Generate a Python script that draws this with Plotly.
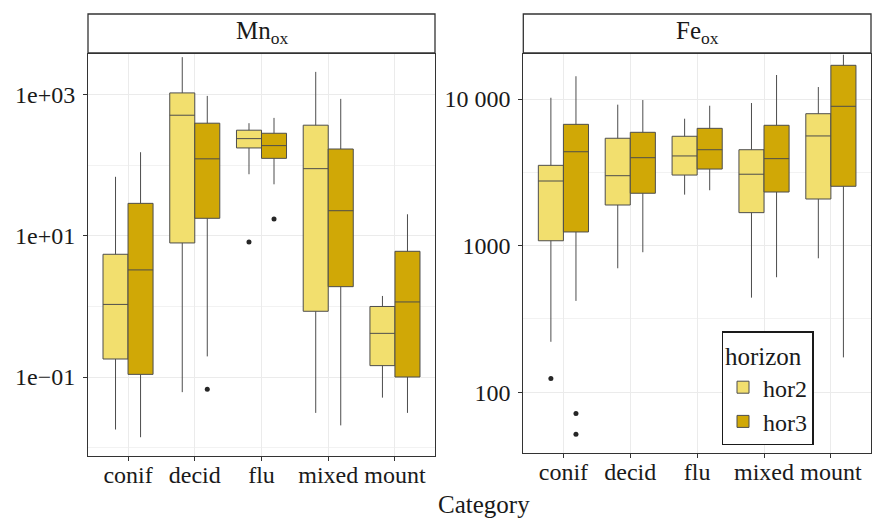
import plotly.graph_objects as go

categories = ["conif", "decid", "flu", "mixed", "mount"]

# Mn_ox statistics
mn_hor2_low = [0.018, 0.061, 75, 0.031, 0.051]
mn_hor2_q1 = [0.18, 7.96, 177, 0.855, 0.145]
mn_hor2_med = [1.07, 515, 240, 90, 0.416]
mn_hor2_q3 = [5.5, 1067, 316, 372, 1.0]
mn_hor2_up = [69, 3430, 397, 2120, 1.41]
mn_hor2_out_cat = ["flu"]
mn_hor2_out_val = [8.2]

mn_hor3_low = [0.014, 0.196, 54, 0.0206, 0.031]
mn_hor3_q1 = [0.109, 17.8, 126, 1.91, 0.1]
mn_hor3_med = [3.3, 124, 191, 22.8, 1.16]
mn_hor3_q3 = [29, 397, 286, 171, 6.06]
mn_hor3_up = [154, 968, 472, 878, 20.3]
mn_hor3_out_cat = ["decid", "flu"]
mn_hor3_out_val = [0.067, 17.4]

# Fe_ox statistics
fe_hor2_low = [221, 701, 2228, 442, 820]
fe_hor2_q1 = [1080, 1893, 3030, 1679, 2080]
fe_hor2_med = [2760, 3000, 4090, 3070, 5600]
fe_hor2_q3 = [3530, 5400, 5570, 4510, 7940]
fe_hor2_up = [10200, 9150, 7340, 9390, 12070]
fe_hor2_out_cat = ["conif"]
fe_hor2_out_val = [124]

fe_hor3_low = [420, 902, 2387, 609, 173]
fe_hor3_q1 = [1240, 2277, 3330, 2322, 2540]
fe_hor3_med = [4370, 3980, 4510, 3920, 8920]
fe_hor3_q3 = [6720, 5930, 6310, 6620, 16980]
fe_hor3_up = [14300, 9840, 9000, 14580, 20050]
fe_hor3_out_cat = ["conif", "conif"]
fe_hor3_out_val = [71.6, 51.8]

mn_ticks = [1000, 10, 0.1]
mn_ticktext = ["1e+03", "1e+01", "1e\u221201"]
mn_minor = [100, 1, 0.01]
fe_ticks = [10000, 1000, 100]
fe_ticktext = ["10 000", "1000", "100"]
fe_minor = [316.23, 3162.3]

horizons = ["hor2", "hor3"]
colors = {"hor2": "#F2DF6E", "hor3": "#D0A806"}
FONT = "Liberation Serif"
TXT = "#1a1a1a"

BOXGAP = 0.25
half = (1 - BOXGAP) / 4  # offset of each dodged box centre

pos = list(range(len(categories)))

fig = go.Figure()

panels = [
    ("x", "y", {"hor2": (mn_hor2_low, mn_hor2_q1, mn_hor2_med, mn_hor2_q3, mn_hor2_up, mn_hor2_out_cat, mn_hor2_out_val),
                "hor3": (mn_hor3_low, mn_hor3_q1, mn_hor3_med, mn_hor3_q3, mn_hor3_up, mn_hor3_out_cat, mn_hor3_out_val)}),
    ("x2", "y2", {"hor2": (fe_hor2_low, fe_hor2_q1, fe_hor2_med, fe_hor2_q3, fe_hor2_up, fe_hor2_out_cat, fe_hor2_out_val),
                  "hor3": (fe_hor3_low, fe_hor3_q1, fe_hor3_med, fe_hor3_q3, fe_hor3_up, fe_hor3_out_cat, fe_hor3_out_val)}),
]

for pi, (xa, ya, data) in enumerate(panels):
    for hi, h in enumerate(horizons):
        low, q1, med, q3, up, ocat, oval = data[h]
        fig.add_trace(go.Box(
            x=pos, lowerfence=low, q1=q1, median=med, q3=q3, upperfence=up,
            name=h, legendgroup=h, showlegend=(pi == 1), offsetgroup=h,
            fillcolor=colors[h], line=dict(color="#4d4d4d", width=1),
            whiskerwidth=0, xaxis=xa, yaxis=ya, hoverinfo="skip",
        ))
        sign = -1 if hi == 0 else 1
        ox = [categories.index(c) + sign * half for c in ocat]
        fig.add_trace(go.Scatter(
            x=ox, y=oval, mode="markers", marker=dict(color="#262626", size=5),
            showlegend=False, xaxis=xa, yaxis=ya, hoverinfo="skip",
        ))

W, H = 875, 518
axis_common = dict(
    showline=True, mirror=True, linecolor="#333333", linewidth=1,
    ticks="outside", ticklen=4, tickcolor="#333333",
    gridcolor="#EBEBEB", gridwidth=1, zeroline=False,
    tickfont=dict(family=FONT, size=24, color=TXT),
)

fig.update_layout(
    width=W, height=H,
    margin=dict(l=0, r=0, t=0, b=0),
    paper_bgcolor="white", plot_bgcolor="white",
    boxmode="group", boxgap=BOXGAP, boxgroupgap=0,
    font=dict(family=FONT, color=TXT),
    xaxis=dict(domain=[88 / W, 435 / W], range=[-0.6, 4.6], tickvals=pos, ticktext=categories,
               anchor="y", ticklabelstandoff=-7, **axis_common),
    yaxis=dict(domain=[1 - 456 / H, 1 - 54 / H], type="log", range=[-2.12, 3.58],
               tickvals=mn_ticks, ticktext=mn_ticktext, anchor="x", ticklabelstandoff=3,
               minor=dict(tickvals=mn_minor, showgrid=True, gridcolor="#F2F2F2", gridwidth=1, ticks=""),
               **axis_common),
    xaxis2=dict(domain=[523.3 / W, 871 / W], range=[-0.6, 4.6], tickvals=pos, ticktext=categories,
                anchor="y2", ticklabelstandoff=-7, **axis_common),
    yaxis2=dict(domain=[1 - 453 / H, 1 - 54 / H], type="log", range=[1.586, 4.307],
                tickvals=fe_ticks, ticktext=fe_ticktext, anchor="x2", ticklabelstandoff=3,
                minor=dict(tickvals=fe_minor, showgrid=True, gridcolor="#F2F2F2", gridwidth=1, ticks=""),
                **axis_common),
    legend=dict(
        x=721.7 / W, y=1 - 331.3 / H, xanchor="left", yanchor="top",
        bgcolor="white", bordercolor="#1a1a1a", borderwidth=1.3,
        title=dict(text="horizon", font=dict(family=FONT, size=25, color=TXT)),
        font=dict(family=FONT, size=24, color=TXT),
        itemwidth=30, tracegroupgap=0,
    ),
    showlegend=True,
)

# facet strips
strips = [("Mn<sub>ox</sub>", 88, 435), ("Fe<sub>ox</sub>", 523.3, 871)]
for txt, x0, x1 in strips:
    fig.add_shape(type="rect", xref="paper", yref="paper",
                  x0=x0 / W, x1=x1 / W, y0=1 - 53 / H, y1=1 - 14 / H,
                  fillcolor="white", line=dict(color="#333333", width=1.3), layer="above")
    fig.add_annotation(text=txt, xref="paper", yref="paper",
                       x=(x0 + x1) / 2 / W, y=1 - 33 / H, showarrow=False,
                       xanchor="center", yanchor="middle",
                       font=dict(family=FONT, size=25, color=TXT))

fig.add_annotation(text="Category", xref="paper", yref="paper",
                   x=484 / W, y=1 - 504 / H, showarrow=False,
                   xanchor="center", yanchor="middle",
                   font=dict(family=FONT, size=25, color=TXT))

fig.write_html("out.html", config={"displayModeBar": False},
               post_script="document.body.style.margin='0';document.body.style.overflow='hidden';")
